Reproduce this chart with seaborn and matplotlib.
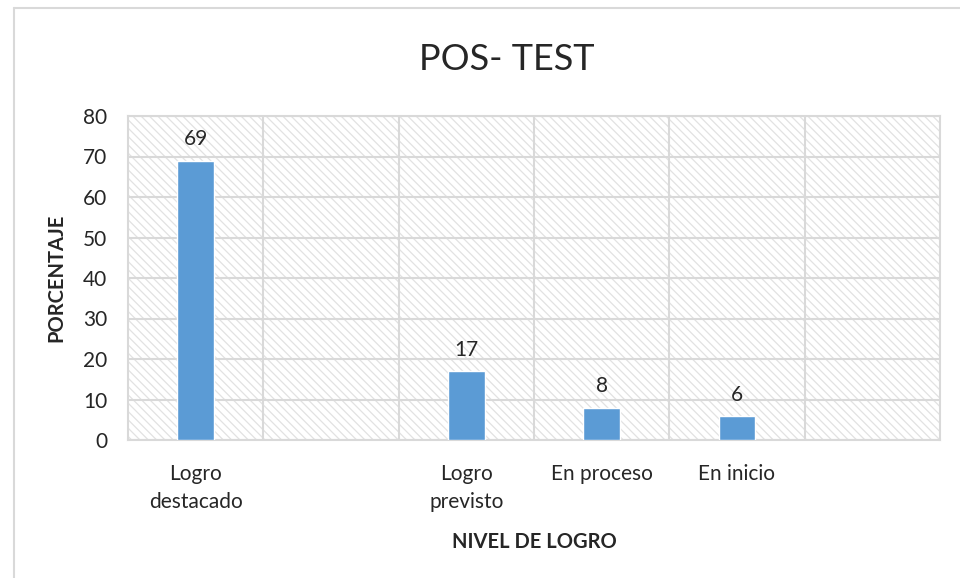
import matplotlib
matplotlib.use("Agg")
import matplotlib.pyplot as plt
import seaborn as sns
import pandas as pd
from matplotlib.patches import Rectangle

categories = ["Logro destacado", "blank1", "Logro previsto", "En proceso", "En inicio", "blank2"]
tick_labels = ["Logro\ndestacado", "", "Logro\nprevisto", "En proceso", "En inicio", ""]
bar_categories = ["Logro destacado", "Logro previsto", "En proceso", "En inicio"]
values = [69, 17, 8, 6]

sns.set_theme(style="white")
plt.rcParams["font.family"] = ["Lato", "DejaVu Sans"]
plt.rcParams["hatch.linewidth"] = 0.9

df = pd.DataFrame({"nivel": bar_categories, "pct": values})

fig = plt.figure(figsize=(9.6, 5.78), dpi=100)
ax = fig.add_axes([128/960, 1-440/578, (940-128)/960, (440-116)/578])

grey = "#d9d9d9"
# hatched background
bg = Rectangle((0, 0), 1, 1, transform=ax.transAxes, facecolor="white",
               edgecolor="#e2e2e2", hatch="\\\\\\\\", linewidth=0, zorder=0)
ax.add_patch(bg)

sns.barplot(data=df, x="nivel", y="pct", order=categories, color="#5B9BD5",
            width=0.27, saturation=1, ax=ax, zorder=3)

ax.set_ylim(0, 80)
ax.set_xlim(-0.5, 5.5)
ax.set_yticks(range(0, 81, 10))
ax.set_xticks(range(6))
ax.set_xticklabels(tick_labels, fontsize=15, linespacing=1.5, va="top")
ax.set_xticks([0.5, 1.5, 2.5, 3.5, 4.5], minor=True)
ax.tick_params(axis="x", which="both", length=0, pad=17)
ax.tick_params(axis="y", length=0, pad=15, labelsize=15)
ax.grid(axis="y", which="major", color=grey, linewidth=1.5, zorder=1)
ax.grid(axis="x", which="minor", color=grey, linewidth=1.5, zorder=1)
ax.grid(axis="x", which="major", visible=False)
ax.set_axisbelow(True)
for s in ax.spines.values():
    s.set_color(grey)
    s.set_linewidth(1.5)

for c in ax.containers:
    ax.bar_label(c, labels=[str(v) for v in values], padding=8, fontsize=15)

ax.set_ylabel("PORCENTAJE", fontsize=14.5, fontweight="bold", labelpad=12)
ax.set_xlabel("NIVEL DE LOGRO", fontsize=14.5, fontweight="bold", labelpad=15)
fig.text(507/960, 1-60/578, "POS- TEST", fontsize=26, ha="center", va="center")

# outer chart border (top and left)
fig.add_artist(plt.Line2D([14/960, 1], [1-8/578, 1-8/578], transform=fig.transFigure,
                          color=grey, linewidth=1.5))
fig.add_artist(plt.Line2D([14/960, 14/960], [0, 1-8/578], transform=fig.transFigure,
                          color=grey, linewidth=1.5))

fig.savefig("out.png", dpi=100)
